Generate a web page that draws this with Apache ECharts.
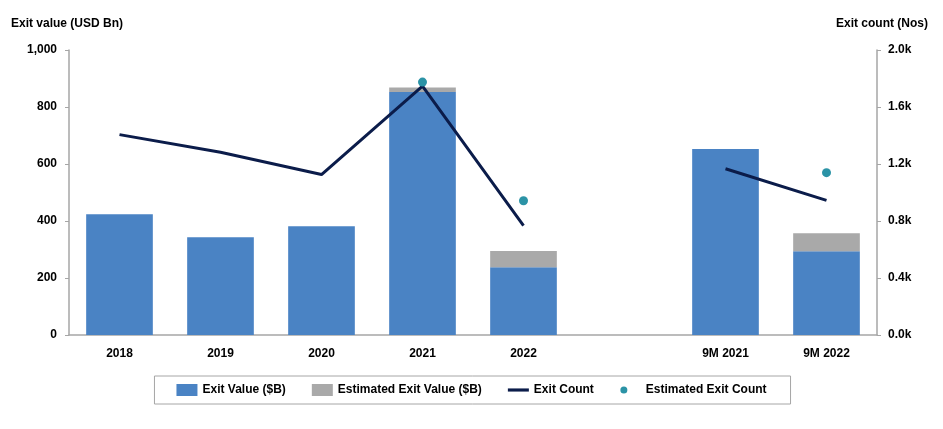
<!DOCTYPE html>
<html>
<head>
<meta charset="utf-8">
<script src="https://cdn.jsdelivr.net/npm/echarts@6/dist/echarts.min.js"></script>
<style>
html,body{margin:0;padding:0;background:#fff;}
#c{width:943px;height:429px;}
</style>
</head>
<body>
<div id="c"></div>
<script>
var categories = ['2018', '2019', '2020', '2021', '2022', '', '9M 2021', '9M 2022'];
var exitValue = [424, 343, 382, 853, 238, null, 653, 294];
var estimatedExitValue = [null, null, null, 15, 57, null, null, 63];
var exitCount = [1406, 1282, 1126, 1747, 767, null, 1167, 945];
var estimatedExitCount = [null, null, null, 1775, 942, null, null, 1139];
var leftTicks = { min: 0, max: 1000, interval: 200 };
var rightTicks = { min: 0, max: 2000, interval: 400 };

var FONT = 'Liberation Sans';
var chart = echarts.init(document.getElementById('c'));
var axisGray = '#a6a6a6';
chart.setOption({
  animation: false,
  textStyle: { fontFamily: FONT },
  title: [
    { text: 'Exit value (USD Bn)', left: 6, top: 13,
      textStyle: { fontSize: 12, fontWeight: 'bold', color: '#000', fontFamily: FONT } },
    { text: 'Exit count (Nos)', right: 10, top: 13,
      textStyle: { fontSize: 12, fontWeight: 'bold', color: '#000', fontFamily: FONT } }
  ],
  grid: { left: 69, right: 66, top: 50, bottom: 94 },
  legend: {
    left: 'center', top: 376,
    borderColor: '#a6a6a6', borderWidth: 1, borderRadius: 0,
    padding: [8, 24, 8, 22],
    itemGap: 26, itemWidth: 21, itemHeight: 12,
    textStyle: { fontSize: 12, fontWeight: 'bold', color: '#000', fontFamily: FONT },
    data: [
      { name: 'Exit Value ($B)', icon: 'rect' },
      { name: 'Estimated Exit Value ($B)', icon: 'rect' },
      { name: 'Exit Count', icon: 'path://M0,0 L20,0 L20,3 L0,3 Z', itemStyle: { color: '#0b1c4a' } },
      { name: 'Estimated Exit Count', icon: 'path://M0,0 M4,2.5 A3.5,3.5 0 1 1 4,9.5 A3.5,3.5 0 1 1 4,2.5 Z M21,12' }
    ]
  },
  xAxis: {
    type: 'category', data: categories,
    axisLine: { lineStyle: { color: axisGray, width: 1.5 } },
    axisTick: { show: false },
    axisLabel: { fontSize: 12, fontWeight: 'bold', color: '#000', margin: 13, fontFamily: FONT }
  },
  yAxis: [
    { type: 'value', min: leftTicks.min, max: leftTicks.max, interval: leftTicks.interval,
      axisLine: { show: true, lineStyle: { color: axisGray, width: 1.5 } },
      axisTick: { show: true, length: 4, lineStyle: { color: axisGray } },
      splitLine: { show: false },
      axisLabel: { fontSize: 12, fontWeight: 'bold', color: '#000', margin: 12, fontFamily: FONT,
        formatter: function (v) { return v.toLocaleString('en-US'); } } },
    { type: 'value', min: rightTicks.min, max: rightTicks.max, interval: rightTicks.interval,
      position: 'right',
      axisLine: { show: true, lineStyle: { color: axisGray, width: 1.5 } },
      axisTick: { show: true, length: 4, lineStyle: { color: axisGray } },
      splitLine: { show: false },
      axisLabel: { fontSize: 12, fontWeight: 'bold', color: '#000', margin: 11, fontFamily: FONT,
        formatter: function (v) { return (v / 1000).toFixed(1) + 'k'; } } }
  ],
  series: [
    { name: 'Exit Value ($B)', type: 'bar', stack: 'v', data: exitValue, barWidth: '66%',
      itemStyle: { color: '#4a83c4' } },
    { name: 'Estimated Exit Value ($B)', type: 'bar', stack: 'v', data: estimatedExitValue,
      itemStyle: { color: '#a9a9a9' } },
    { name: 'Exit Count', type: 'line', yAxisIndex: 1, data: exitCount, connectNulls: false,
      symbol: 'none', lineStyle: { color: '#0b1c4a', width: 3 }, itemStyle: { color: '#0b1c4a' } },
    { name: 'Estimated Exit Count', type: 'scatter', yAxisIndex: 1, data: estimatedExitCount,
      symbolSize: 9, itemStyle: { color: '#2b93a6', opacity: 1 }, z: 5 }
  ]
});
</script>
</body>
</html>
